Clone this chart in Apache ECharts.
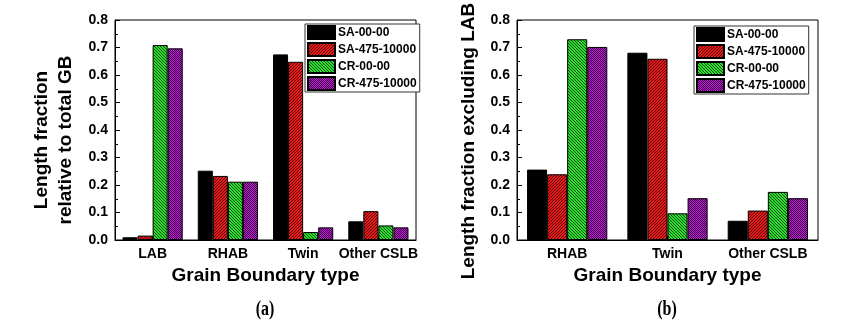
<!DOCTYPE html>
<html><head><meta charset="utf-8">
<script src="https://cdn.jsdelivr.net/npm/echarts@6/dist/echarts.min.js"></script>
<style>html,body{margin:0;padding:0;background:#fff}#c{width:860px;height:328px}</style>
</head><body><div id="c"></div>
<script>
var catsA = ['LAB', 'RHAB', 'Twin', 'Other CSLB'];
var catsB = ['RHAB', 'Twin', 'Other CSLB'];
var seriesNames = ['SA-00-00', 'SA-475-10000', 'CR-00-00', 'CR-475-10000'];
var a_SA00  = [0.010, 0.252, 0.675, 0.068];
var a_SA475 = [0.016, 0.233, 0.648, 0.105];
var a_CR00  = [0.709, 0.212, 0.029, 0.053];
var a_CR475 = [0.697, 0.212, 0.046, 0.046];
var b_SA00  = [0.256, 0.681, 0.070];
var b_SA475 = [0.239, 0.659, 0.107];
var b_CR00  = [0.730, 0.097, 0.175];
var b_CR475 = [0.702, 0.152, 0.152];
var yTickLabels = ['0.0','0.1','0.2','0.3','0.4','0.5','0.6','0.7','0.8'];

function makePattern(kind) {
  var n = kind === 'check' ? 2 : 3;
  var cv = document.createElement('canvas');
  cv.width = n; cv.height = n;
  var ctx = cv.getContext('2d');
  for (var x = 0; x < n; x++) for (var y = 0; y < n; y++) {
    var dark;
    if (kind === 'slash') { dark = (x + y) % n === 0; ctx.fillStyle = dark ? '#5a0000' : '#e61a1a'; }
    else if (kind === 'back') { dark = ((x - y) % n + n) % n === 0; ctx.fillStyle = dark ? '#0a4a0a' : '#2ee02e'; }
    else { dark = (x + y) % 2 === 0; ctx.fillStyle = dark ? '#380040' : '#c418dc'; }
    ctx.fillRect(x, y, 1, 1);
  }
  return { image: cv, repeat: 'repeat' };
}
var fills = ['#000000', makePattern('slash'), makePattern('back'), makePattern('check')];

var chart = echarts.init(document.getElementById('c'), null, { renderer: 'canvas' });
var font = '"Liberation Sans", Arimo, Arial, sans-serif';

function xAx(idx, cats) {
  return {
    type: 'category', gridIndex: idx, data: cats,
    axisLine: { lineStyle: { color: '#000', width: 1 } },
    axisTick: { show: true, alignWithLabel: true, inside: true, length: 4, lineStyle: { color: '#000' } },
    axisLabel: { color: '#000', fontFamily: font, fontWeight: 'bold', fontSize: 14, margin: 7, interval: 0 },
    name: 'Grain Boundary type', nameLocation: 'middle', nameGap: 25,
    nameTextStyle: { color: '#000', fontFamily: font, fontWeight: 'bold', fontSize: 19 }
  };
}
function yAx(idx) {
  return {
    type: 'value', gridIndex: idx, min: 0, max: 0.8, interval: 0.1,
    axisLine: { show: true, lineStyle: { color: '#000', width: 1 } },
    axisTick: { show: true, inside: true, length: 5, lineStyle: { color: '#000' } },
    minorTick: { show: true, splitNumber: 2, length: 3, lineStyle: { color: '#000' } },
    splitLine: { show: false },
    axisLabel: { color: '#000', fontFamily: font, fontWeight: 'bold', fontSize: 14, margin: 7,
      formatter: function (v) { return yTickLabels[Math.round(v * 10)]; } }
  };
}
var series = [];
var dataA = [a_SA00, a_SA475, a_CR00, a_CR475];
var dataB = [b_SA00, b_SA475, b_CR00, b_CR475];
[dataA, dataB].forEach(function (ds, g) {
  ds.forEach(function (d, i) {
    series.push({
      type: 'bar', name: seriesNames[i], xAxisIndex: g, yAxisIndex: g, data: d,
      barGap: '0%', barCategoryGap: '20%',
      itemStyle: { color: fills[i], borderColor: '#000', borderWidth: 1 }
    });
  });
});
function legend(left, top) {
  return {
    data: seriesNames.map(function (n) { return { name: n, icon: 'rect' }; }),
    orient: 'vertical', left: left, top: top,
    itemWidth: 27, itemHeight: 13, itemGap: 2, padding: [1, 3, 1, 2],
    borderColor: '#333', borderWidth: 1, backgroundColor: '#fff',
    textStyle: { color: '#000', fontFamily: font, fontWeight: 'bold', fontSize: 12, padding: [0, 0, 0, -2] },
    selectedMode: false
  };
}
var titleStyle = { fill: '#000', font: 'bold 19px ' + font, textAlign: 'center', textVerticalAlign: 'middle' };
function vtext(x, y, t) {
  return { type: 'text', x: x, y: y, rotation: Math.PI / 2, silent: true,
    style: Object.assign({ text: t }, titleStyle) };
}
function label(x, y, t) {
  return { type: 'text', x: x, y: y, scaleX: 0.8, silent: true,
    style: { text: t, fill: '#000', font: 'bold 20px "Liberation Serif", Tinos, "Times New Roman", serif', textAlign: 'center', textVerticalAlign: 'middle' } };
}
chart.setOption({
  animation: false,
  backgroundColor: '#fff',
  grid: [
    { left: 115, right: 444, top: 20, bottom: 88, show: true, borderColor: '#000', borderWidth: 1 },
    { left: 517, right: 42, top: 20, bottom: 88, show: true, borderColor: '#000', borderWidth: 1 }
  ],
  xAxis: [xAx(0, catsA), xAx(1, catsB)],
  yAxis: [yAx(0), yAx(1)],
  legend: [legend(305, 24), legend(694, 26)],
  series: series,
  graphic: [
    vtext(42, 140, 'Length fraction'),
    vtext(66, 140, 'relative to total GB'),
    vtext(469, 141, 'Length fraction excluding LAB'),
    label(265, 310, '(a)'),
    label(667, 310, '(b)')
  ]
});
</script></body></html>
